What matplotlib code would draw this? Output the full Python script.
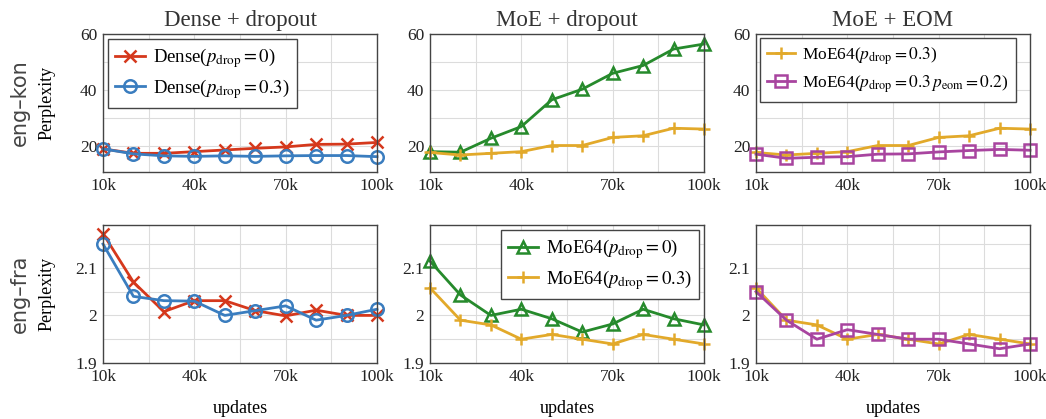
import matplotlib
matplotlib.use("Agg")
import matplotlib.pyplot as plt
from matplotlib.ticker import FixedLocator

# données
updates = [10, 20, 30, 40, 50, 60, 70, 80, 90, 100]  # en milliers
xticks = [10, 40, 70, 100]
xlabels = ["10k", "40k", "70k", "100k"]

kon_dense_0 = [18.8, 17.2, 17.2, 17.8, 18.4, 19.0, 19.5, 20.4, 20.5, 21.1]
kon_dense_03 = [18.8, 17.0, 16.3, 16.1, 16.3, 16.1, 16.3, 16.4, 16.4, 16.0]
kon_moe_0 = [17.8, 17.6, 22.6, 26.8, 36.4, 40.2, 45.9, 48.7, 54.6, 56.4]
kon_moe_03 = [17.5, 16.6, 17.2, 17.8, 20.0, 20.0, 22.9, 23.5, 26.2, 25.9]
kon_moe_eom = [16.9, 15.4, 15.8, 16.0, 16.9, 17.0, 17.7, 18.2, 18.6, 18.3]

fra_dense_0 = [2.172, 2.07, 2.008, 2.031, 2.031, 2.01, 1.999, 2.011, 2.0, 2.0]
fra_dense_03 = [2.15, 2.04, 2.031, 2.03, 2.0, 2.01, 2.02, 1.99, 2.0, 2.013]
fra_moe_0 = [2.114, 2.043, 2.0, 2.013, 1.993, 1.965, 1.982, 2.013, 1.993, 1.98]
fra_moe_03 = [2.058, 1.99, 1.98, 1.95, 1.96, 1.95, 1.94, 1.96, 1.95, 1.94]
fra_moe_eom = [2.05, 1.99, 1.95, 1.97, 1.96, 1.95, 1.95, 1.94, 1.93, 1.94]

titres = ["Dense + dropout", "MoE + dropout", "MoE + EOM"]
langues = ["eng\u2013kon", "eng\u2013fra"]

lab_d0 = r"Dense($p_{\mathrm{drop}}=0$)"
lab_d3 = r"Dense($p_{\mathrm{drop}}=0.3$)"
lab_m0 = r"MoE64($p_{\mathrm{drop}}=0$)"
lab_m3 = r"MoE64($p_{\mathrm{drop}}=0.3$)"
lab_me = r"MoE64($p_{\mathrm{drop}}=0.3\,p_{\mathrm{eom}}=0.2$)"

rouge, bleu = "#d5381c", "#3a7dbf"
vert, jaune, violet = "#268a2c", "#e2a92a", "#a8449f"

plt.rcParams["font.family"] = ["Liberation Serif", "DejaVu Serif"]
plt.rcParams["mathtext.fontset"] = "stix"

fig = plt.figure(figsize=(10.46, 4.19), dpi=100)

lefts = [103 / 1046, 430 / 1046, 756 / 1046]
bottoms = [1 - 172 / 419, 1 - 363 / 419]
w, h = 274 / 1046, 138 / 419

style = dict(lw=2.0, markersize=9, markeredgewidth=1.8, clip_on=False)


def courbe(ax, y, col, marker, label, fill="none"):
    ax.plot(updates, y, color=col, marker=marker, label=label,
            markerfacecolor=fill, **style)


axes = [[None] * 3 for _ in range(2)]
for r in range(2):
    for c in range(3):
        ax = fig.add_axes([lefts[c], bottoms[r], w, h])
        axes[r][c] = ax
        ax.set_xlim(10, 100)
        ax.set_xticks(xticks)
        ax.set_xticklabels(xlabels)
        ax.xaxis.set_minor_locator(FixedLocator([25, 55, 85]))
        if r == 0:
            ax.set_ylim(10.5, 60)
            ax.set_yticks([20, 40, 60])
            ax.yaxis.set_minor_locator(FixedLocator([30, 50]))
        else:
            ax.set_ylim(1.9, 2.19)
            ax.set_yticks([1.9, 2.0, 2.1])
            ax.set_yticklabels(["1.9", "2", "2.1"])
            ax.yaxis.set_minor_locator(FixedLocator([1.95, 2.05, 2.15]))
        ax.grid(True, which="both", color="#dcdcdc", lw=0.8)
        ax.set_axisbelow(True)
        ax.tick_params(which="both", length=0, labelsize=12.5, pad=4,
                       colors="#222222")
        for s in ax.spines.values():
            s.set_color("#444444")
            s.set_linewidth(1.0)
        if r == 0:
            ax.set_title(titres[c], fontsize=16.5, pad=6, color="#333333")
        else:
            ax.set_xlabel("updates", fontsize=13, labelpad=11)

# ligne du haut : eng-kon
courbe(axes[0][0], kon_dense_0, rouge, "x", lab_d0)
courbe(axes[0][0], kon_dense_03, bleu, "o", lab_d3)
courbe(axes[0][1], kon_moe_0, vert, "^", lab_m0)
courbe(axes[0][1], kon_moe_03, jaune, "+", lab_m3)
courbe(axes[0][2], kon_moe_03, jaune, "+", lab_m3)
courbe(axes[0][2], kon_moe_eom, violet, "s", lab_me)

# ligne du bas : eng-fra
courbe(axes[1][0], fra_dense_0, rouge, "x", lab_d0)
courbe(axes[1][0], fra_dense_03, bleu, "o", lab_d3)
courbe(axes[1][1], fra_moe_0, vert, "^", lab_m0)
courbe(axes[1][1], fra_moe_03, jaune, "+", lab_m3)
courbe(axes[1][2], fra_moe_03, jaune, "+", lab_m3)
courbe(axes[1][2], fra_moe_eom, violet, "s", lab_me)

leg_kw = dict(fontsize=13.5, fancybox=False, framealpha=1, edgecolor="#444444",
              handlelength=1.6, borderaxespad=0.25, labelspacing=0.35,
              handletextpad=0.4)
for ax, loc in [(axes[0][0], "upper left"), (axes[1][1], "upper right"),
                (axes[0][2], "upper left")]:
    kw = dict(leg_kw)
    if ax is axes[0][2]:
        kw["fontsize"] = 12.5
    lg = ax.legend(loc=loc, **kw)
    lg.get_frame().set_linewidth(1.0)

for r in range(2):
    ax = axes[r][0]
    ax.set_ylabel("Perplexity", fontsize=13)
    ax.yaxis.set_label_coords(-0.175, 0.5)
    y = bottoms[r] + h / 2
    fig.text(0.019, y, langues[r], rotation=90, ha="center", va="center",
             fontsize=15, family="DejaVu Sans", color="#444444")

fig.savefig("out.png", dpi=100)
